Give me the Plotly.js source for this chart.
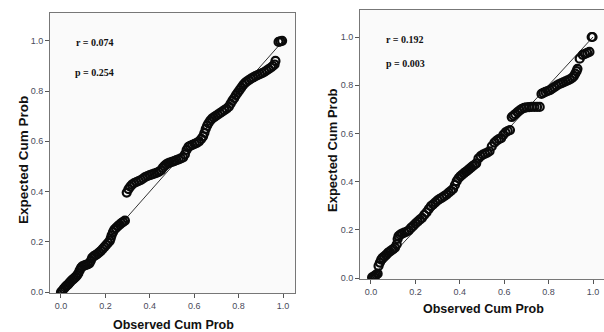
<!DOCTYPE html>
<html>
<head>
<meta charset="utf-8">
<script src="https://cdn.plot.ly/plotly-3.0.1.min.js"></script>
<style>
html,body{margin:0;padding:0;background:#fff;overflow:hidden;width:604px;height:332px;}
#chart{width:612px;height:332px;}
</style>
</head>
<body>
<div id="chart"></div>
<script>
// Left panel: Observed vs Expected cumulative probability
const leftObs = [0.000,0.006,0.012,0.018,0.024,0.030,0.036,0.042,0.048,0.054,0.060,0.066,0.072,0.078,0.084,0.090,0.096,0.104,0.112,0.120,0.128,0.134,0.140,0.148,0.156,0.164,0.172,0.180,0.188,0.196,0.204,0.212,0.220,0.224,0.228,0.234,0.240,0.248,0.256,0.264,0.272,0.280,0.288,
  0.296,0.304,0.312,0.320,0.330,0.340,0.350,0.360,0.370,0.380,0.390,0.400,0.410,0.420,0.430,0.440,0.450,0.458,0.466,0.474,0.482,0.490,0.500,0.510,0.520,0.530,0.540,0.550,0.558,0.566,0.574,0.582,0.592,0.602,0.612,0.622,0.632,0.640,0.646,0.652,0.658,0.664,0.672,0.680,0.688,0.696,0.706,0.716,0.726,0.736,0.746,0.756,0.764,0.772,0.780,0.788,0.796,0.804,0.812,0.820,0.828,0.836,0.846,0.856,0.866,0.876,0.886,0.896,0.906,0.916,0.926,0.936,0.946,0.954,0.962,0.966,0.980,0.988,0.996];
const leftExp = [0.000,0.005,0.012,0.018,0.024,0.028,0.034,0.040,0.046,0.050,0.055,0.060,0.066,0.074,0.086,0.096,0.102,0.105,0.108,0.110,0.114,0.124,0.136,0.143,0.147,0.152,0.158,0.164,0.172,0.180,0.188,0.196,0.204,0.214,0.226,0.238,0.248,0.255,0.262,0.268,0.274,0.279,0.284,
  0.396,0.410,0.420,0.428,0.434,0.438,0.442,0.446,0.452,0.458,0.462,0.465,0.468,0.471,0.474,0.478,0.484,0.494,0.502,0.508,0.512,0.515,0.518,0.521,0.525,0.528,0.532,0.536,0.548,0.566,0.578,0.582,0.586,0.590,0.594,0.600,0.610,0.620,0.634,0.650,0.662,0.672,0.682,0.690,0.695,0.700,0.706,0.712,0.718,0.724,0.730,0.738,0.750,0.762,0.772,0.784,0.794,0.804,0.814,0.824,0.832,0.838,0.844,0.850,0.855,0.860,0.864,0.868,0.872,0.876,0.882,0.888,0.894,0.900,0.906,0.920,0.996,0.998,1.000];

// Right panel
const rightObs = [0.005,0.012,0.018,0.024,0.030,0.034,0.040,0.046,0.052,0.060,0.068,0.076,0.084,0.092,0.100,0.108,0.116,0.120,0.124,0.132,0.140,0.150,0.160,0.170,0.180,0.190,0.200,0.210,0.220,0.230,0.240,0.250,0.260,0.270,0.280,0.290,0.300,0.310,0.320,0.330,0.340,0.350,0.360,0.370,0.378,0.386,0.394,0.402,0.410,0.418,0.426,0.434,0.442,0.450,0.458,0.466,0.474,0.484,0.494,0.504,0.514,0.524,0.534,0.544,0.556,0.566,0.576,0.586,0.596,0.606,0.616,0.626,0.634,0.642,0.650,0.660,0.670,0.680,0.690,0.700,0.712,0.724,0.736,0.748,0.760,0.768,0.776,0.786,0.796,0.806,0.816,0.826,0.836,0.846,0.856,0.866,0.876,0.886,0.896,0.906,0.914,0.920,0.926,0.930,0.940,0.954,0.964,0.974,0.984,0.994,0.998];
const rightExp = [0.003,0.006,0.010,0.014,0.018,0.050,0.064,0.076,0.084,0.090,0.096,0.104,0.110,0.115,0.120,0.126,0.140,0.162,0.174,0.180,0.184,0.188,0.192,0.198,0.208,0.216,0.226,0.234,0.242,0.250,0.262,0.272,0.286,0.298,0.306,0.314,0.322,0.328,0.334,0.340,0.346,0.354,0.362,0.370,0.386,0.402,0.414,0.422,0.428,0.434,0.440,0.446,0.452,0.458,0.464,0.470,0.476,0.496,0.506,0.512,0.516,0.520,0.526,0.546,0.562,0.570,0.576,0.580,0.594,0.604,0.610,0.614,0.668,0.674,0.680,0.688,0.696,0.702,0.706,0.708,0.709,0.710,0.710,0.710,0.710,0.764,0.768,0.772,0.776,0.780,0.786,0.792,0.798,0.804,0.808,0.812,0.816,0.820,0.824,0.830,0.838,0.848,0.858,0.868,0.910,0.926,0.930,0.934,0.938,1.000,1.000];

// Reference line y = x
const refLine = [0, 1];

const tickVals = [0, 0.2, 0.4, 0.6, 0.8, 1.0];
const tickText = ['0.0', '0.2', '0.4', '0.6', '0.8', '1.0'];

const xTitle = 'Observed Cum Prob';
const yTitle = 'Expected Cum Prob';
const leftStats = ['r = 0.074', 'p = 0.254'];
const rightStats = ['r = 0.192', 'p = 0.003'];

const markerStyle = {symbol: 'circle-open', size: 8, color: '#0a0a0a', line: {width: 2.2, color: '#0a0a0a'}};
const lineStyle = {color: '#333', width: 1};

const traces = [
  {x: refLine, y: refLine, mode: 'lines', line: lineStyle, xaxis: 'x', yaxis: 'y', hoverinfo: 'skip'},
  {x: leftObs, y: leftExp, mode: 'markers', marker: markerStyle, xaxis: 'x', yaxis: 'y'},
  {x: refLine, y: refLine, mode: 'lines', line: lineStyle, xaxis: 'x2', yaxis: 'y2', hoverinfo: 'skip'},
  {x: rightObs, y: rightExp, mode: 'markers', marker: markerStyle, xaxis: 'x2', yaxis: 'y2'}
];

const W = 612, H = 332;
function axisBase() {
  return {
    tickvals: tickVals, ticktext: tickText,
    ticks: 'outside', ticklen: 4, tickwidth: 1, tickcolor: '#555',
    tickfont: {family: 'Liberation Sans, Arial, sans-serif', size: 9, color: '#4a4a5a'},
    showgrid: false, zeroline: false,
    showline: true, linecolor: '#777', linewidth: 1, mirror: true
  };
}

const layout = {
  width: W, height: H,
  margin: {l: 0, r: 0, t: 0, b: 0},
  paper_bgcolor: '#ffffff',
  plot_bgcolor: '#fafafa',
  showlegend: false,
  xaxis: Object.assign(axisBase(), {domain: [50 / W, 295 / W], range: [-0.0495, 1.054], anchor: 'y'}),
  yaxis: Object.assign(axisBase(), {domain: [39 / H, 319 / H], range: [-0.004, 1.111], anchor: 'x'}),
  xaxis2: Object.assign(axisBase(), {domain: [360 / W, 1], range: [-0.0495, 1.0856], anchor: 'y2'}),
  yaxis2: Object.assign(axisBase(), {domain: [53 / H, 322 / H], range: [-0.004, 1.112], anchor: 'x2'}),
  annotations: [
    {text: '<b>' + yTitle + '</b>', xref: 'paper', yref: 'paper', x: 23 / W, y: (H - 160) / H, textangle: -90, showarrow: false, xanchor: 'center', yanchor: 'middle', font: {family: 'Liberation Sans, Arial, sans-serif', size: 13.5, color: '#111'}},
    {text: '<b>' + yTitle + '</b>', xref: 'paper', yref: 'paper', x: 333 / W, y: (H - 150) / H, textangle: -90, showarrow: false, xanchor: 'center', yanchor: 'middle', font: {family: 'Liberation Sans, Arial, sans-serif', size: 13, color: '#111'}},
    {text: '<b>' + xTitle + '</b>', xref: 'paper', yref: 'paper', x: 173 / W, y: (H - 325) / H, showarrow: false, xanchor: 'center', yanchor: 'middle', font: {family: 'Liberation Sans, Arial, sans-serif', size: 12.5, color: '#111'}},
    {text: '<b>' + xTitle + '</b>', xref: 'paper', yref: 'paper', x: 483 / W, y: (H - 309) / H, showarrow: false, xanchor: 'center', yanchor: 'middle', font: {family: 'Liberation Sans, Arial, sans-serif', size: 12.5, color: '#111'}},
    {text: '<b>' + leftStats[0] + '</b>', xref: 'paper', yref: 'paper', x: 74 / W, y: (H - 43) / H, showarrow: false, xanchor: 'left', yanchor: 'middle', font: {family: 'Liberation Serif, Times New Roman, serif', size: 10, color: '#111'}},
    {text: '<b>' + leftStats[1] + '</b>', xref: 'paper', yref: 'paper', x: 73 / W, y: (H - 73) / H, showarrow: false, xanchor: 'left', yanchor: 'middle', font: {family: 'Liberation Serif, Times New Roman, serif', size: 10, color: '#111'}},
    {text: '<b>' + rightStats[0] + '</b>', xref: 'paper', yref: 'paper', x: 384 / W, y: (H - 39) / H, showarrow: false, xanchor: 'left', yanchor: 'middle', font: {family: 'Liberation Serif, Times New Roman, serif', size: 10, color: '#111'}},
    {text: '<b>' + rightStats[1] + '</b>', xref: 'paper', yref: 'paper', x: 384 / W, y: (H - 63) / H, showarrow: false, xanchor: 'left', yanchor: 'middle', font: {family: 'Liberation Serif, Times New Roman, serif', size: 10, color: '#111'}}
  ]
};

Plotly.newPlot('chart', traces, layout, {staticPlot: true, displayModeBar: false});
</script>
</body>
</html>
